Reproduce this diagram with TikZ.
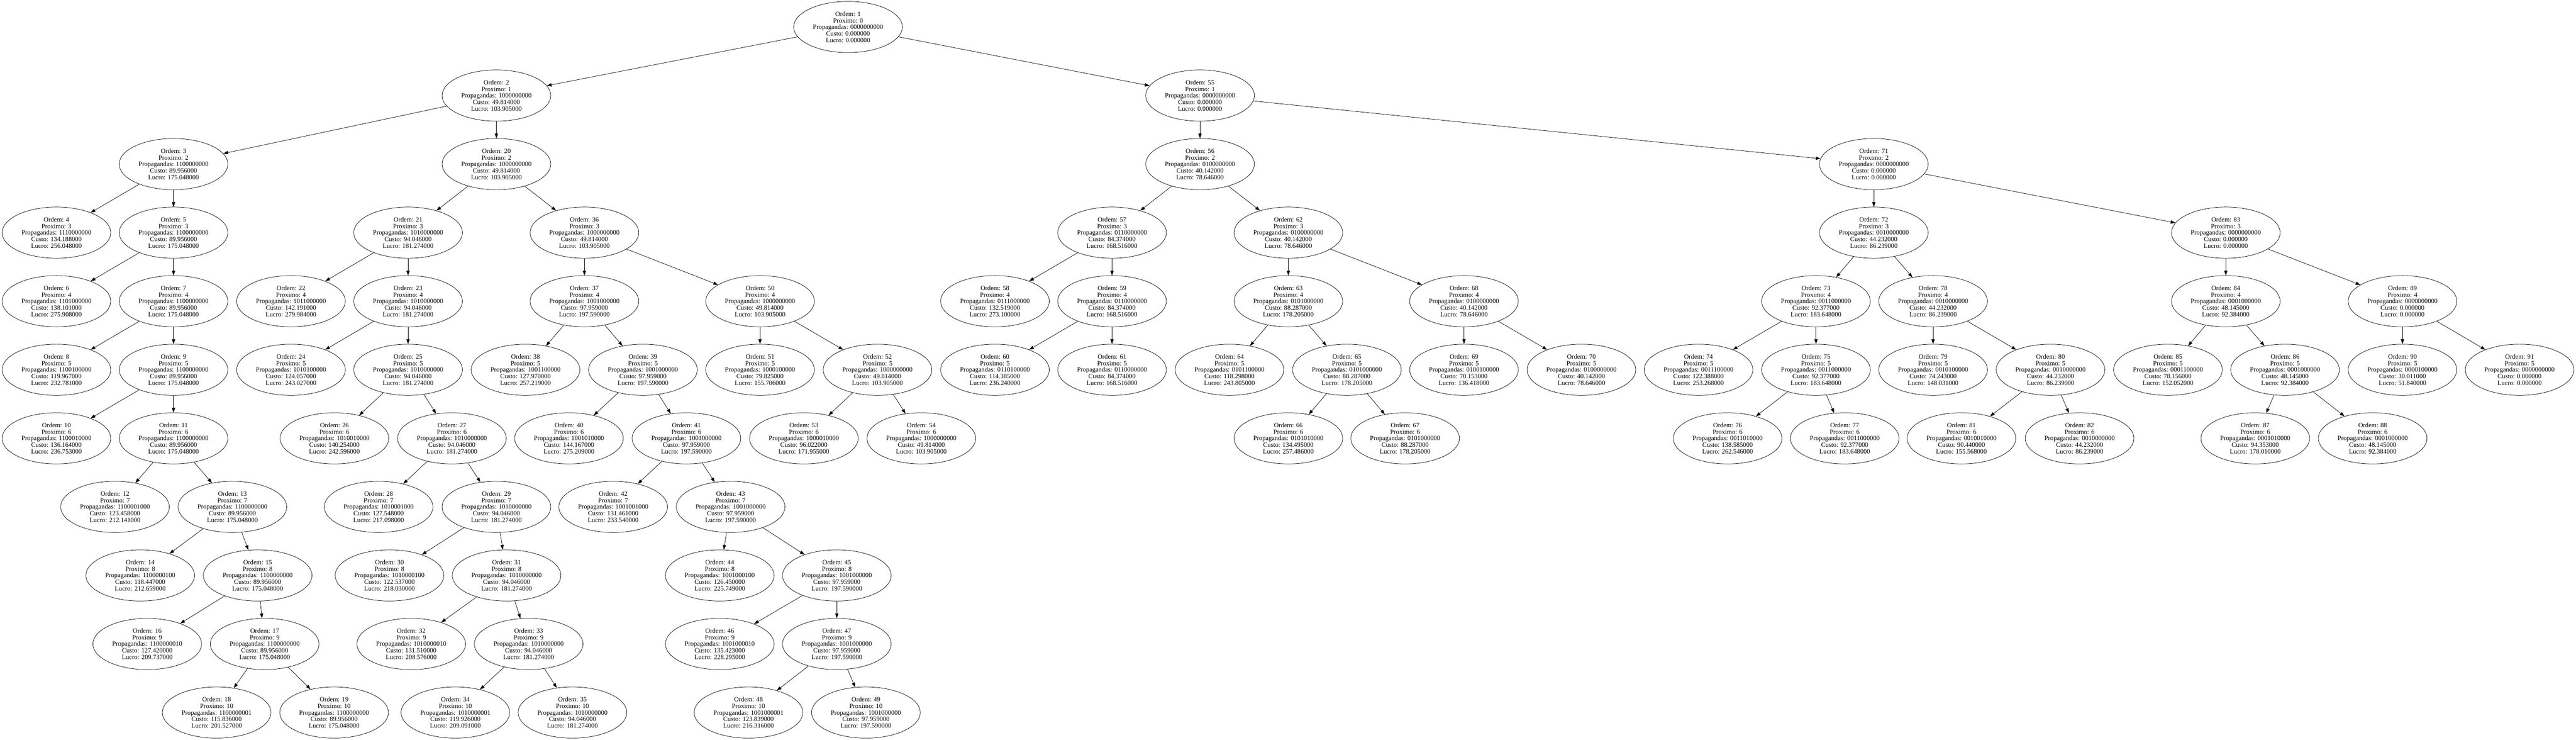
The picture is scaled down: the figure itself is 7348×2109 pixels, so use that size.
\documentclass[tikz,border=0pt]{standalone}
\usepackage{fontspec}
\setmainfont{Liberation Serif}
\usetikzlibrary{shapes.geometric,arrows.meta}
\newcommand{\TreeNd}[7]{\node[treenode] (n#1) at (#2,{77+195.5*#3}) {Ordem: #1\\Proximo: #4\\Propagandas: #5\\Custo: #6\\Lucro: #7};}
\begin{document}
\begin{tikzpicture}[x=0.75pt,y=-0.75pt,
  treenode/.style={draw, ellipse, minimum width=232.5pt, minimum height=109.5pt, inner sep=0pt, align=center, font=\fontsize{14}{14}\selectfont, line width=0.8pt},
  edge/.style={draw, line width=0.8pt, -{Triangle[length=10pt,width=7pt]}}]
\fill[white] (0,0) rectangle (7348,2109);
\useasboundingbox (0,0) rectangle (7348,2109);
% level 0-2
\TreeNd{1}{2419}{0}{0}{0000000000}{0.000000}{0.000000}
\TreeNd{2}{1416}{1}{1}{1000000000}{49.814000}{103.905000}
\TreeNd{55}{3423}{1}{1}{0000000000}{0.000000}{0.000000}
\TreeNd{3}{495}{2}{2}{1100000000}{89.956000}{175.048000}
\TreeNd{20}{1416}{2}{2}{1000000000}{49.814000}{103.905000}
\TreeNd{56}{3423}{2}{2}{0100000000}{40.142000}{78.646000}
\TreeNd{71}{5345}{2}{2}{0000000000}{0.000000}{0.000000}
% level 3
\TreeNd{4}{161}{3}{3}{1110000000}{134.188000}{256.048000}
\TreeNd{5}{495}{3}{3}{1100000000}{89.956000}{175.048000}
\TreeNd{21}{1164}{3}{3}{1010000000}{94.046000}{181.274000}
\TreeNd{36}{1667}{3}{3}{1000000000}{49.814000}{103.905000}
\TreeNd{57}{3172}{3}{3}{0110000000}{84.374000}{168.516000}
\TreeNd{62}{3675}{3}{3}{0100000000}{40.142000}{78.646000}
\TreeNd{72}{5345}{3}{3}{0010000000}{44.232000}{86.239000}
\TreeNd{83}{6349}{3}{3}{0000000000}{0.000000}{0.000000}
% level 4
\TreeNd{6}{161}{4}{4}{1101000000}{138.101000}{275.908000}
\TreeNd{7}{495}{4}{4}{1100000000}{89.956000}{175.048000}
\TreeNd{22}{830}{4}{4}{1011000000}{142.191000}{279.984000}
\TreeNd{23}{1164}{4}{4}{1010000000}{94.046000}{181.274000}
\TreeNd{37}{1667}{4}{4}{1001000000}{97.959000}{197.590000}
\TreeNd{50}{2168}{4}{4}{1000000000}{49.814000}{103.905000}
\TreeNd{58}{2838}{4}{4}{0111000000}{132.519000}{273.100000}
\TreeNd{59}{3172}{4}{4}{0110000000}{84.374000}{168.516000}
\TreeNd{63}{3675}{4}{4}{0101000000}{88.287000}{178.205000}
\TreeNd{68}{4176}{4}{4}{0100000000}{40.142000}{78.646000}
\TreeNd{73}{5180}{4}{4}{0011000000}{92.377000}{183.648000}
\TreeNd{78}{5514}{4}{4}{0010000000}{44.232000}{86.239000}
\TreeNd{84}{6349}{4}{4}{0001000000}{48.145000}{92.384000}
\TreeNd{89}{6853}{4}{4}{0000000000}{0.000000}{0.000000}
% level 5
\TreeNd{8}{161}{5}{5}{1100100000}{119.967000}{232.781000}
\TreeNd{9}{495}{5}{5}{1100000000}{89.956000}{175.048000}
\TreeNd{24}{830}{5}{5}{1010100000}{124.057000}{243.027000}
\TreeNd{25}{1164}{5}{5}{1010000000}{94.046000}{181.274000}
\TreeNd{38}{1499}{5}{5}{1001100000}{127.970000}{257.219000}
\TreeNd{39}{1834}{5}{5}{1001000000}{97.959000}{197.590000}
\TreeNd{51}{2168}{5}{5}{1000100000}{79.825000}{155.706000}
\TreeNd{52}{2503}{5}{5}{1000000000}{49.814000}{103.905000}
\TreeNd{60}{2838}{5}{5}{0110100000}{114.385000}{236.240000}
\TreeNd{61}{3172}{5}{5}{0110000000}{84.374000}{168.516000}
\TreeNd{64}{3507}{5}{5}{0101100000}{118.298000}{243.805000}
\TreeNd{65}{3842}{5}{5}{0101000000}{88.287000}{178.205000}
\TreeNd{69}{4176}{5}{5}{0100100000}{70.153000}{136.418000}
\TreeNd{70}{4511}{5}{5}{0100000000}{40.142000}{78.646000}
\TreeNd{74}{4845}{5}{5}{0011100000}{122.388000}{253.268000}
\TreeNd{75}{5180}{5}{5}{0011000000}{92.377000}{183.648000}
\TreeNd{79}{5514}{5}{5}{0010100000}{74.243000}{148.031000}
\TreeNd{80}{5849}{5}{5}{0010000000}{44.232000}{86.239000}
\TreeNd{85}{6184}{5}{5}{0001100000}{78.156000}{152.052000}
\TreeNd{86}{6518}{5}{5}{0001000000}{48.145000}{92.384000}
\TreeNd{90}{6853}{5}{5}{0000100000}{30.011000}{51.840000}
\TreeNd{91}{7187}{5}{5}{0000000000}{0.000000}{0.000000}
% level 6
\TreeNd{10}{161}{6}{6}{1100010000}{136.164000}{236.753000}
\TreeNd{11}{495}{6}{6}{1100000000}{89.956000}{175.048000}
\TreeNd{26}{954}{6}{6}{1010010000}{140.254000}{242.596000}
\TreeNd{27}{1289}{6}{6}{1010000000}{94.046000}{181.274000}
\TreeNd{40}{1623}{6}{6}{1001010000}{144.167000}{275.209000}
\TreeNd{41}{1958}{6}{6}{1001000000}{97.959000}{197.590000}
\TreeNd{53}{2293}{6}{6}{1000010000}{96.022000}{171.955000}
\TreeNd{54}{2628}{6}{6}{1000000000}{49.814000}{103.905000}
\TreeNd{66}{3675}{6}{6}{0101010000}{134.495000}{257.486000}
\TreeNd{67}{4008}{6}{6}{0101000000}{88.287000}{178.205000}
\TreeNd{76}{4928}{6}{6}{0011010000}{138.585000}{262.546000}
\TreeNd{77}{5262}{6}{6}{0011000000}{92.377000}{183.648000}
\TreeNd{81}{5595}{6}{6}{0010010000}{90.440000}{155.568000}
\TreeNd{82}{5932}{6}{6}{0010000000}{44.232000}{86.239000}
\TreeNd{87}{6433}{6}{6}{0001010000}{94.353000}{178.010000}
\TreeNd{88}{6768}{6}{6}{0001000000}{48.145000}{92.384000}
% level 7
\TreeNd{12}{328}{7}{7}{1100001000}{123.458000}{212.141000}
\TreeNd{13}{663}{7}{7}{1100000000}{89.956000}{175.048000}
\TreeNd{28}{1080}{7}{7}{1010001000}{127.548000}{217.098000}
\TreeNd{29}{1416}{7}{7}{1010000000}{94.046000}{181.274000}
\TreeNd{42}{1749}{7}{7}{1001001000}{131.461000}{233.540000}
\TreeNd{43}{2084}{7}{7}{1001000000}{97.959000}{197.590000}
% level 8
\TreeNd{14}{400}{8}{8}{1100000100}{118.447000}{212.659000}
\TreeNd{15}{735}{8}{8}{1100000000}{89.956000}{175.048000}
\TreeNd{30}{1111}{8}{8}{1010000100}{122.537000}{218.030000}
\TreeNd{31}{1445}{8}{8}{1010000000}{94.046000}{181.274000}
\TreeNd{44}{2053}{8}{8}{1001000100}{126.450000}{225.749000}
\TreeNd{45}{2387}{8}{8}{1001000000}{97.959000}{197.590000}
% level 9
\TreeNd{16}{420}{9}{9}{1100000010}{127.420000}{209.737000}
\TreeNd{17}{755}{9}{9}{1100000000}{89.956000}{175.048000}
\TreeNd{32}{1173}{9}{9}{1010000010}{131.510000}{208.576000}
\TreeNd{33}{1508}{9}{9}{1010000000}{94.046000}{181.274000}
\TreeNd{46}{2053}{9}{9}{1001000010}{135.423000}{228.295000}
\TreeNd{47}{2387}{9}{9}{1001000000}{97.959000}{197.590000}
% level 10
\TreeNd{18}{618}{10}{10}{1100000001}{115.836000}{201.527000}
\TreeNd{19}{953}{10}{10}{1100000000}{89.956000}{175.048000}
\TreeNd{34}{1299}{10}{10}{1010000001}{119.926000}{209.091000}
\TreeNd{35}{1633}{10}{10}{1010000000}{94.046000}{181.274000}
\TreeNd{48}{2135}{10}{10}{1001000001}{123.839000}{216.316000}
\TreeNd{49}{2470}{10}{10}{1001000000}{97.959000}{197.590000}
% edges
\foreach \a/\b in {1/2,1/55,2/3,2/20,3/4,3/5,5/6,5/7,7/8,7/9,9/10,9/11,11/12,11/13,13/14,13/15,15/16,15/17,17/18,17/19,
  20/21,20/36,21/22,21/23,23/24,23/25,25/26,25/27,27/28,27/29,29/30,29/31,31/32,31/33,33/34,33/35,
  36/37,36/50,37/38,37/39,39/40,39/41,41/42,41/43,43/44,43/45,45/46,45/47,47/48,47/49,50/51,50/52,52/53,52/54,
  55/56,55/71,56/57,56/62,57/58,57/59,59/60,59/61,62/63,62/68,63/64,63/65,65/66,65/67,68/69,68/70,
  71/72,71/83,72/73,72/78,73/74,73/75,75/76,75/77,78/79,78/80,80/81,80/82,83/84,83/89,84/85,84/86,86/87,86/88,89/90,89/91}
  {\draw[edge] (n\a) -- (n\b);}
\end{tikzpicture}
\end{document}
